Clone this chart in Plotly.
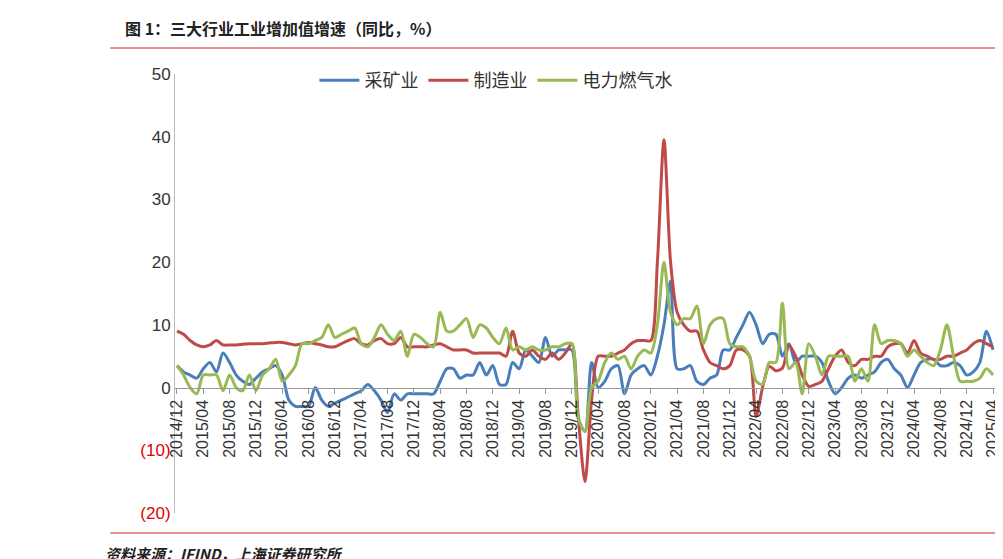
import plotly.graph_objects as go

mining = [3.5,
  2.5,2,1.5,3,4,2.5,5.5,4,2,1,0.5,1.5,
  2.5,3,3.5,2,-2,-3,-3,-3,0,-2,-3,-2.5,
  -2,-1.5,-1,-0.5,0.5,-0.5,-2,-4,-1,-2,-1,-1,
  -1,-1,-1,1,3,3,1.5,2,2,4,2,3.5,
  0.5,0.5,4,3,6,5,4,8,5,6,6,6,
  -5,-7,4,0,1,3,3.5,-1,2,3,3.5,2,
  5,10,17,3,3,3.5,1,0.5,1.5,2,6,6,
  8,10,12,10,7,8.5,8.5,5,7,4,5,5,
  5,4,1,-1,0,1.5,2,1.5,2,2.5,4,4.5,
  3,2,0,2,4,4.5,4.5,3.5,3.5,4,3.5,2,
  2.5,4,9,6]
manufacturing = [9,
  8.5,7.5,6.8,6.5,6.8,7.5,6.8,6.8,6.8,6.9,7,7,
  7,7.1,7.2,7.2,7,6.8,7,7.2,7,6.8,6.5,6.5,
  7,7.5,7.8,7,6.8,7.5,7.8,7,7,8,6.5,6.5,
  6.5,6.5,6.8,7,6.5,6,6,6,5.5,5.5,5.5,5.5,
  5.5,5,9,5.5,5,6,5,4.5,5.5,4.5,5.5,7,
  -5,-15,-2,5,5,5,5.5,6,7,7.5,7.5,7.5,
  20,39.5,20,12,10,9,9,6,4,3.5,3,3.5,
  6,6,5,-4.6,0.1,3.4,2.7,3.1,6.7,5,2,0.2,
  0.5,1,3,5,6,4,3.5,4.5,4.5,5,5,6.5,
  7,7,5.5,7.5,5.5,5,4.5,4.5,5,5,5.5,6,
  7,7.5,7,6.5]
utility = [3.5,
  2,0,-1,2,2,2,-0.5,2,0,-0.5,2,-0.5,
  2,3,4.5,1,2,3.5,7,7,7.5,8,10,8,
  8.5,9,9.5,7,6.5,8,10,8.5,7.5,9,5,8.5,
  8,7,6.5,12,9,9,10,11,8,10,9.5,8,
  7,9.5,6,6.5,6,6.5,6,6,6.5,6.5,7,7,
  -5,-7,0,1,4,5.5,4.5,5,3,5,6,5.5,
  10,20,12,10,11,11,13,7,10,11,11,7,
  6.5,6.5,5,1,0.5,4,4,13.5,3,4,-1,7,
  5,2,5,5,5,5,1,3,1,10,7,7.5,
  7.5,7,5,6,5,4,3.5,6,10,5,1,1,
  1,1.5,3,2]

months = ["2014/12"] + [f"{y}/{m:02d}" for y in range(2015, 2025) for m in range(1, 13)] + [f"2025/{m:02d}" for m in range(1, 5)]
tick_labels = months[::4]
y_ticks = [50, 40, 30, 20, 10, 0, -10, -20]
y_text = ["50", "40", "30", "20", "10", "0", "<span style='color:#e00000'>(10)</span>", "<span style='color:#e00000'>(20)</span>"]

series = [("采矿业", mining, "#4a7ebb"), ("制造业", manufacturing, "#be4b48"), ("电力燃气水", utility, "#98b954")]
fig = go.Figure()
for name, vals, col in series:
    fig.add_trace(go.Scatter(x=months, y=vals, name=name, mode="lines",
                             line=dict(color=col, width=3, shape="spline", smoothing=0.8)))

fig.update_layout(
    width=1003, height=559, plot_bgcolor="white", paper_bgcolor="white",
    margin=dict(l=167, r=16, t=66, b=54),
    font=dict(family="Liberation Sans, Arial", size=17, color="#333"),
    showlegend=True,
    legend=dict(orientation="h", x=0.17, y=0.985, xanchor="left", yanchor="middle",
                font=dict(family="Noto Sans CJK SC", size=18), bgcolor="rgba(0,0,0,0)",
                itemwidth=40, traceorder="normal"),
    xaxis=dict(type="category", range=[-0.3, len(months) - 0.7], tickvals=tick_labels, ticktext=tick_labels,
               tickangle=-90, anchor="free", position=20/70, showline=True, linecolor="#999",
               ticks="outside", ticklen=5, tickcolor="#999", showgrid=False, automargin=False,
               tickfont=dict(size=16, color="#333")),
    yaxis=dict(range=[-20, 50], tickvals=y_ticks, ticktext=y_text, showgrid=False, zeroline=False,
               showline=True, linecolor="#bbb", ticks="", automargin=False,
               tickfont=dict(size=17, color="#333")),
)
fig.add_annotation(text="<b>图 1：三大行业工业增加值增速（同比，%）</b>", xref="paper", yref="paper",
                   x=-0.064, y=1.0 + 46/439, xanchor="left", yanchor="middle", showarrow=False,
                   font=dict(family="Noto Sans CJK SC", size=16, color="#222"))
fig.add_annotation(text="<b><i>资料来源：IFIND，上海证券研究所</i></b>", xref="paper", yref="paper",
                   x=-0.088, y=-(545-505)/439, xanchor="left", yanchor="middle", showarrow=False,
                   font=dict(family="Noto Sans CJK SC", size=15, color="#222"))
fig.add_shape(type="line", xref="paper", yref="paper", x0=-0.079, x1=1.016,
              y0=1 + 26/439, y1=1 + 26/439, line=dict(color="#d02020", width=1))
fig.add_shape(type="line", xref="paper", yref="paper", x0=-0.079, x1=1.016,
              y0=-(525-505)/439, y1=-(525-505)/439, line=dict(color="#d02020", width=1))
fig.write_html("out.html")
